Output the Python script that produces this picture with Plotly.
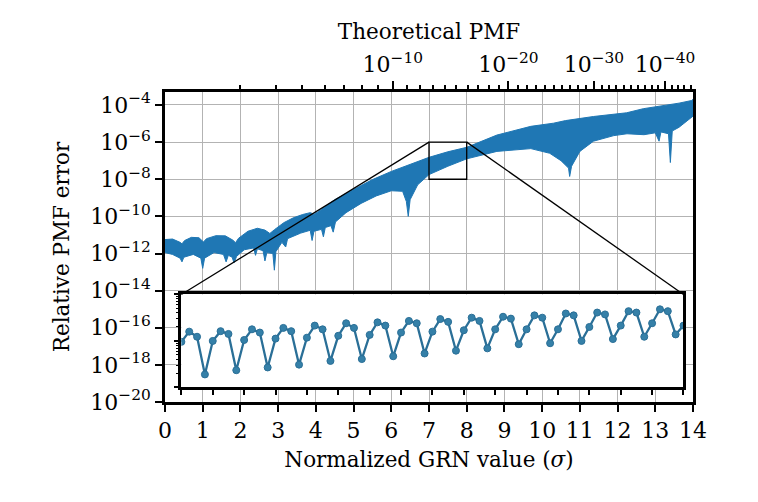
import numpy as np
import plotly.graph_objects as go

# ---------------- data (log10 of relative PMF error) ----------------
# main curve drawn as a dense band: upper / lower envelope
upper_x = [0.00, 0.20, 0.40, 0.45, 0.52, 0.70, 0.90, 0.98, 1.02, 1.10, 1.35, 1.60,
           1.80, 1.87, 1.95, 2.20, 2.45, 2.65, 2.78, 2.90, 3.15, 3.40, 3.65, 3.85,
           3.95, 4.05, 4.20, 4.50, 5.00, 5.50, 6.00, 6.50, 7.00, 7.50, 8.00, 8.80,
           9.70, 10.30, 10.62, 11.36, 11.89, 12.24, 12.68, 13.13, 13.63, 13.96, 14.00]
upper_log10 = [-11.25, -11.22, -11.40, -11.48, -11.30, -11.13, -11.15, -11.32, -11.38, -11.20, -11.04, -11.05,
               -11.28, -11.42, -11.18, -10.80, -10.64, -10.74, -10.92, -10.72, -10.34, -10.08, -9.90, -9.80,
               -9.88, -9.76, -9.55, -9.10, -8.55, -8.02, -7.58, -7.20, -6.82, -6.52, -6.28, -5.62,
               -5.15, -4.98, -4.84, -4.62, -4.52, -4.42, -4.20, -4.06, -3.90, -3.76, -3.70]
lower_x = [0.00, 0.20, 0.40, 0.45, 0.50, 0.75, 0.95, 1.00, 1.05, 1.30, 1.55, 1.62,
           1.68, 1.78, 1.83, 1.90, 2.10, 2.35, 2.40, 2.45, 2.60, 2.65, 2.70, 2.86,
           2.90, 2.94, 3.10, 3.20, 3.25, 3.60, 3.85, 3.90, 3.95, 4.15, 4.20, 4.25,
           4.40, 4.46, 4.52, 4.80, 5.20, 5.60, 6.00, 6.30, 6.40, 6.45, 6.50, 6.70,
           7.00, 7.50, 8.00, 8.80, 9.70, 10.20, 10.50, 10.70, 10.73, 10.78, 11.00,
           11.36, 11.90, 12.25, 12.70, 13.00, 13.10, 13.15, 13.35, 13.40, 13.45,
           13.63, 13.80, 14.00]
lower_log10 = [-11.95, -12.05, -12.25, -12.45, -12.20, -12.05, -12.25, -12.80, -12.25, -11.95, -12.05, -12.45,
               -12.10, -12.20, -12.50, -12.15, -11.80, -11.70, -12.10, -11.75, -11.85, -12.40, -11.95, -12.00,
               -12.90, -11.90, -11.40, -11.65, -11.20, -10.90, -10.75, -11.30, -10.80, -10.70, -11.10, -10.60,
               -10.50, -10.85, -10.30, -9.80, -9.30, -8.90, -8.62, -8.65, -9.20, -10.00, -9.10, -8.30,
               -7.75, -7.30, -6.90, -6.50, -6.35, -6.60, -7.00, -7.40, -7.85, -7.30, -6.50,
               -5.95, -5.65, -5.55, -5.60, -5.50, -5.95, -5.45, -5.55, -7.10, -5.40,
               -5.20, -4.90, -4.60]

# inset: zoom of 7 <= x <= 8, individual samples
inset_log10 = [-7.02, -6.80, -6.91, -7.72, -7.00, -6.79, -6.85, -7.63,
               -6.98, -6.75, -6.82, -7.57, -6.95, -6.72, -6.79, -7.51,
               -6.93, -6.67, -6.75, -7.43, -6.89, -6.62, -6.72, -7.39,
               -6.87, -6.60, -6.67, -7.33, -6.82, -6.57, -6.62, -7.27,
               -6.80, -6.53, -6.59, -7.21, -6.77, -6.50, -6.57, -7.16,
               -6.75, -6.48, -6.52, -7.07, -6.75, -6.45, -6.50, -7.05,
               -6.75, -6.41, -6.45, -7.00, -6.70, -6.39, -6.43, -6.96,
               -6.67, -6.36, -6.39, -6.91, -6.62, -6.32, -6.36, -6.86, -6.67]
zoom_x = [7.0, 8.0]
zoom_log10 = [-8.0, -6.0]
inset_x = list(np.linspace(zoom_x[0], zoom_x[1], len(inset_log10)))

# axes ticks
x_ticks = list(range(0, 15))
y_tick_exp = list(range(-4, -21, -2))
pmf_major = [-10, -20, -30, -40]
pmf_minor = [d for d in range(-3, -45, -1) if d not in pmf_major]
PMF_LOG0, PMF_SLOPE = -2.14, 0.2154   # log10 PMF = LOG0 - SLOPE * sigma^2


def sigma_of_pmf(d):
    return float(np.sqrt((PMF_LOG0 - d) / PMF_SLOPE))


# ---------------- style ----------------
BLUE = '#1f77b4'
INSET = '#2a6f97'
FONT = 'DejaVu Serif'
TICK_SIZE = 22
TITLE_SIZE = 21.5
Y_TOP = -3.30
inset_dom_x = [0.031, 0.982]
inset_dom_y = [0.047, 0.347]

fig = go.Figure()
band_x = upper_x + lower_x[::-1]
band_y = [10 ** v for v in upper_log10 + lower_log10[::-1]]
fig.add_trace(go.Scatter(x=band_x, y=band_y, fill='toself', fillcolor=BLUE,
                         mode='lines', line=dict(color=BLUE, width=1),
                         xaxis='x', yaxis='y', hoverinfo='skip', showlegend=False))
# invisible anchor for the top (PMF) axis
fig.add_trace(go.Scatter(x=[upper_x[0], upper_x[-1]], y=[band_y[0], band_y[0]],
                         xaxis='x2', yaxis='y', mode='markers', marker=dict(opacity=0),
                         hoverinfo='skip', showlegend=False))
fig.add_trace(go.Scatter(x=inset_x, y=[10 ** v for v in inset_log10],
                         xaxis='x3', yaxis='y3', mode='lines+markers',
                         line=dict(color=INSET, width=2.3),
                         marker=dict(size=7, color='#3580a8', line=dict(color=INSET, width=1)),
                         hoverinfo='skip', showlegend=False))

axis_common = dict(ticks='outside', tickcolor='black', showline=True, linecolor='black',
                   linewidth=2.5, zeroline=False, tickfont=dict(size=TICK_SIZE))
title_font = dict(size=TITLE_SIZE)

# page body has an 8 px margin: figure is sized/offset so the plot area lands at 165..693 x 92..402
fig.update_layout(
    width=750, height=494,
    margin=dict(l=157, r=65, t=84, b=100),
    paper_bgcolor='white', plot_bgcolor='white',
    font=dict(family=FONT, size=TICK_SIZE, color='black'),
    xaxis=dict(domain=[0, 1], anchor='y', range=[0, 14], tickmode='array', tickvals=x_ticks,
               ticklen=7, tickwidth=2, showgrid=True, gridcolor='#b3b3b3', gridwidth=1.2,
               mirror=True, title=dict(text='Normalized GRN value (<i>σ</i>)', standoff=10, font=title_font),
               **axis_common),
    yaxis=dict(domain=[0, 1], anchor='x', type='log', range=[-20, Y_TOP], tickmode='array',
               tickvals=[10.0 ** e for e in y_tick_exp],
               ticktext=[f'10<sup>−{-e}</sup>' for e in y_tick_exp],
               ticklen=7, tickwidth=2, showgrid=True, gridcolor='#b3b3b3', gridwidth=1.2,
               mirror=True, title=dict(text='Relative PMF error', standoff=15, font=title_font),
               **axis_common),
    xaxis2=dict(overlaying='x', side='top', anchor='y', range=[0, 14], tickmode='array',
                tickvals=[sigma_of_pmf(d) for d in pmf_major],
                ticktext=[f'10<sup>−{-d}</sup>' for d in pmf_major],
                ticklen=8, tickwidth=2, showgrid=False,
                minor=dict(tickmode='array', tickvals=[sigma_of_pmf(d) for d in pmf_minor],
                           ticks='outside', ticklen=4, tickwidth=1.5, tickcolor='black'),
                title=dict(text='Theoretical PMF', standoff=4, font=title_font),
                **axis_common),
    xaxis3=dict(domain=inset_dom_x, anchor='y3', range=zoom_x, tickmode='array',
                tickvals=[zoom_x[0] + n / 16 for n in range(17)], showticklabels=False,
                ticklen=5, tickwidth=2, showgrid=False, mirror=True, **axis_common),
    yaxis3=dict(domain=inset_dom_y, anchor='x3', type='log', range=zoom_log10, tickmode='array',
                tickvals=[1e-8, 1e-7, 1e-6], showticklabels=False, ticklen=5, tickwidth=1.5,
                showgrid=False, mirror=True,
                minor=dict(tickmode='array',
                           tickvals=[k * 10.0 ** e for e in (-8, -7) for k in range(2, 10)],
                           ticks='outside', ticklen=3, tickwidth=1, tickcolor='black'),
                **axis_common),
)

# zoom rectangle and connector lines (main-axis data coordinates)
zx0, zx1 = zoom_x
zy0, zy1 = 10 ** zoom_log10[0], 10 ** zoom_log10[1]
corner_left_x = 14 * inset_dom_x[0]
corner_right_x = 14 * inset_dom_x[1]
corner_top_y = 10 ** (-20 + inset_dom_y[1] * (Y_TOP + 20))
line_style = dict(color='black', width=1.3)
fig.add_shape(type='rect', xref='x', yref='y', x0=zx0, x1=zx1, y0=zy0, y1=zy1,
              line=line_style, layer='above')
fig.add_shape(type='line', xref='x', yref='y', x0=zx0, y0=zy1, x1=corner_left_x, y1=corner_top_y,
              line=line_style, layer='above')
fig.add_shape(type='line', xref='x', yref='y', x0=zx1, y0=zy1, x1=corner_right_x, y1=corner_top_y,
              line=line_style, layer='above')

fig.write_html('out.html')
